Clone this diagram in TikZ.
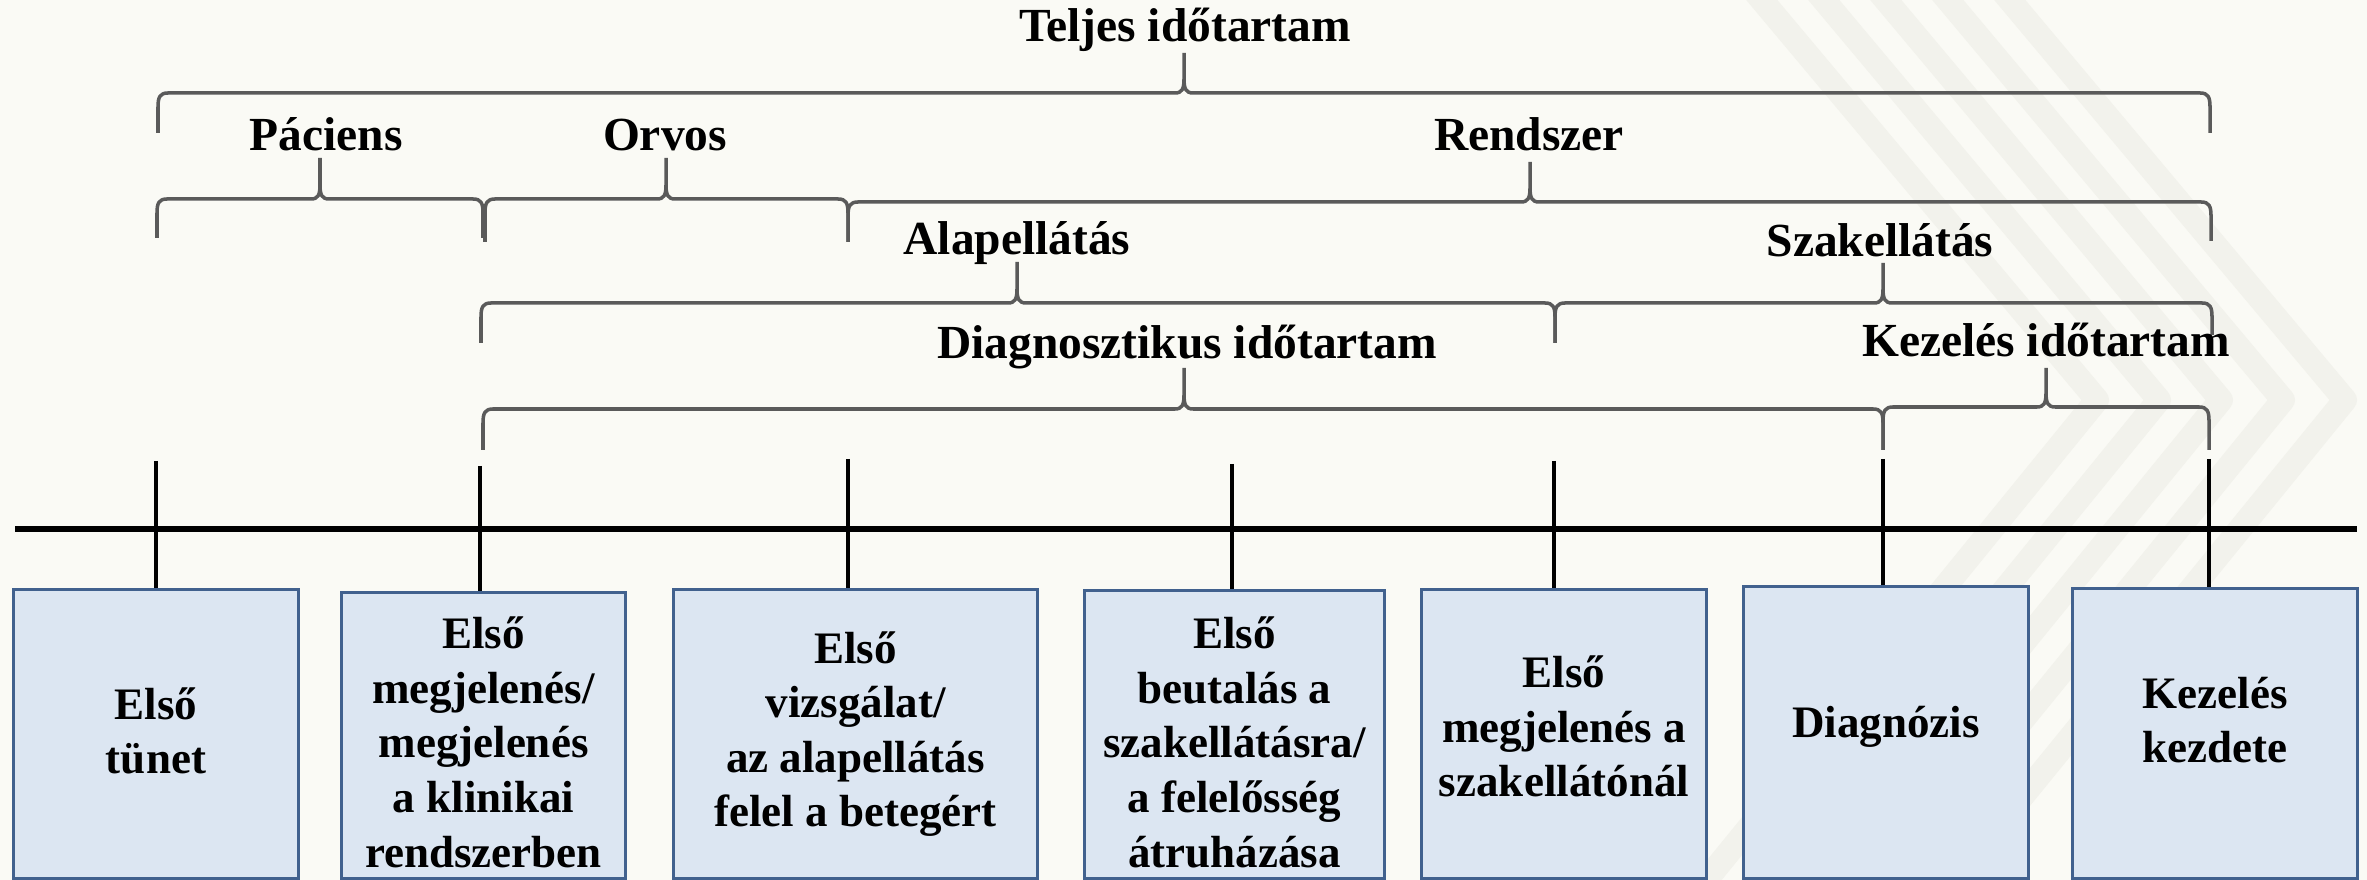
\documentclass[tikz,border=0pt]{standalone}
\usepackage{fontspec}
\setmainfont{Liberation Serif}
\definecolor{bgc}{HTML}{FAFAF5}
\definecolor{wmc}{HTML}{F2F2EC}
\definecolor{braceg}{HTML}{5A5A5A}
\definecolor{boxb}{HTML}{41618E}
\definecolor{boxf}{HTML}{DCE6F2}
\newcommand\mybrace[7]{%
  \draw[brace] (#1,#4+#5) -- (#1,#4+14) .. controls (#1,#4+4) and (#1+2,#4) .. (#1+10,#4)
    -- (#3-9,#4) .. controls (#3-2,#4) and (#3,#4-4) .. (#3,#4-14) -- (#3,#4-#7)
    (#3,#4-14) .. controls (#3,#4-4) and (#3+2,#4) .. (#3+9,#4)
    -- (#2-10,#4) .. controls (#2-2,#4) and (#2,#4+4) .. (#2,#4+14) -- (#2,#4+#6);}
\begin{document}
\begin{tikzpicture}[x=0.01cm,y=-0.01cm,
  brace/.style={draw=braceg,line width=1pt,line join=round},
  box/.style={draw=boxb,fill=boxf,line width=0.85pt,inner sep=0pt,minimum height=2.88cm},
  btxt/.style={font=\fontsize{12.8}{15.5}\selectfont\bfseries,align=center,inner sep=0pt,anchor=base},
  lbl/.style={font=\fontsize{13.5}{16}\selectfont\bfseries,inner sep=0pt,anchor=base},
  tick/.style={line width=1.35pt,black},
  wm/.style={draw=wmc,line width=6.8pt,line join=round,line cap=round}]
\useasboundingbox (0,0) rectangle (2367,880);
\fill[bgc] (0,0) rectangle (2367,880);
% watermark chevrons
\foreach \i in {0,...,4}{
  \draw[wm] (1745+62*\i,-20) -- (2097+62*\i,400) -- (1690+62*\i,900);
}
% braces
\mybrace{158}{2210}{1184}{93}{40}{40}{40}
\mybrace{157}{483}{320}{199}{39}{39}{41}
\mybrace{485}{848}{666}{199}{43}{43}{41}
\mybrace{848}{2211}{1530}{202}{40}{39}{40}
\mybrace{481}{1555}{1017}{303}{40}{40}{41}
\mybrace{1555}{2212}{1883}{303}{40}{32}{40}
\mybrace{483}{1883}{1184}{409}{41}{41}{41}
\mybrace{1883}{2209}{2046}{407}{43}{43}{39}
% labels
\node[lbl] (teljes) at (1185,42) {Teljes időtartam};
\node[lbl] (paciens) at (326,151) {Páciens};
\node[lbl] (orvos) at (665,151) {Orvos};
\node[lbl] (rendszer) at (1529,151) {Rendszer};
\node[lbl] (alap) at (1017,255) {Alapellátás};
\node[lbl] (szak) at (1880,257) {Szakellátás};
\node[lbl] (diag) at (1187,359) {Diagnosztikus időtartam};
\node[lbl] (kez) at (2046,357) {Kezelés időtartam};
% timeline
\coordinate (tl) at (15,529);
\coordinate (tr) at (2357,529);
\draw[line width=1.6pt,black] (tl) -- (tr);
% boxes
\node[box,minimum width=2.84cm] (b1) at (156,734) {};
\node[box,minimum width=2.83cm,minimum height=2.85cm] (b2) at (483.5,735.5) {};
\node[box,minimum width=3.63cm] (b3) at (855.5,734) {};
\node[box,minimum width=2.99cm,minimum height=2.87cm] (b4) at (1234.5,734.5) {};
\node[box,minimum width=2.84cm] (b5) at (1564,734) {};
\node[box,minimum width=2.84cm,minimum height=2.91cm] (b6) at (1886,732.5) {};
\node[box,minimum width=2.84cm,minimum height=2.89cm] (b7) at (2215,733.5) {};
% ticks
\coordinate (k1) at (156,461);
\coordinate (k2) at (480,466);
\coordinate (k3) at (848,459);
\coordinate (k4) at (1232,464);
\coordinate (k5) at (1554,461);
\coordinate (k6) at (1883,459);
\coordinate (k7) at (2209,459);
\draw[tick] (k1) -- (k1 |- b1.north);
\draw[tick] (k2) -- (k2 |- b2.north);
\draw[tick] (k3) -- (k3 |- b3.north);
\draw[tick] (k4) -- (k4 |- b4.north);
\draw[tick] (k5) -- (k5 |- b5.north);
\draw[tick] (k6) -- (k6 |- b6.north);
\draw[tick] (k7) -- (k7 |- b7.north);
% box texts (base = baseline of last line)
\node[btxt] (t1) at (156,774) {Első\\tünet};
\node[btxt] (t2) at (483.5,867) {Első\\megjelenés/\\megjelenés\\a klinikai\\rendszerben};
\node[btxt] (t3) at (855.5,827) {Első\\vizsgálat/\\az alapellátás\\felel a betegért};
\node[btxt] (t4) at (1234.5,867) {Első\\beutalás a\\szakellátásra/\\a felelősség\\átruházása};
\node[btxt] (t5) at (1564,797) {Első\\megjelenés a\\szakellátónál};
\node[btxt] (t6) at (1886,738) {Diagnózis};
\node[btxt] (t7) at (2215,763) {Kezelés\\kezdete};
\end{tikzpicture}
\end{document}
